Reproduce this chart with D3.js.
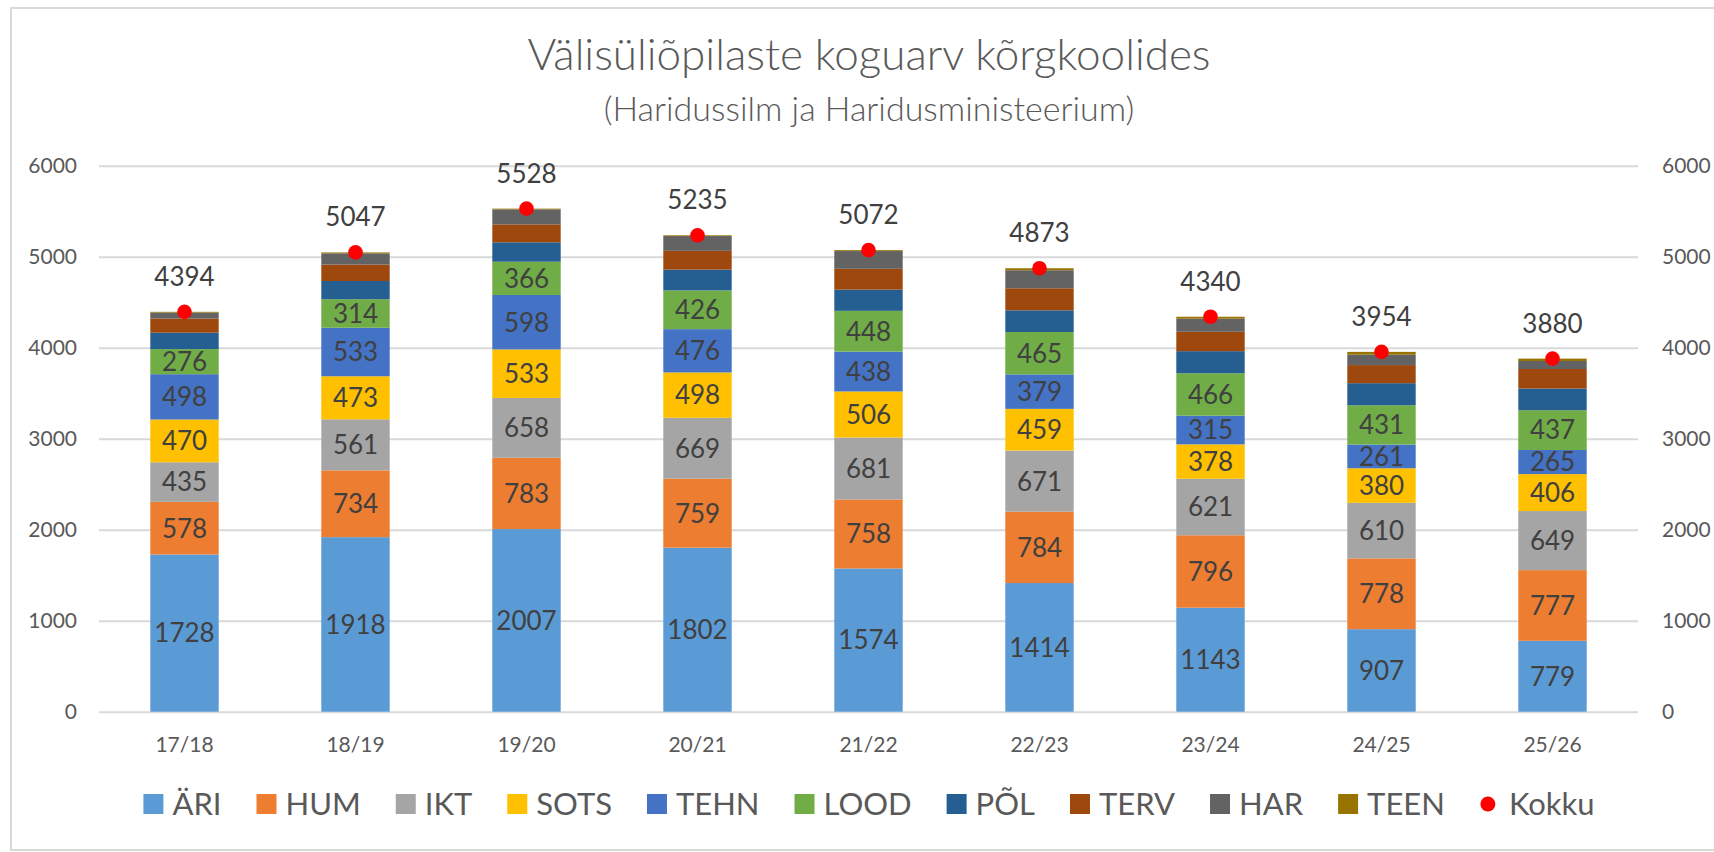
<!DOCTYPE html>
<html>
<head>
<meta charset="utf-8">
<script src="https://cdn.jsdelivr.net/npm/d3@7"></script>
<style>
  body { margin: 0; background: #fff; }
  text { font-family: Lato, Carlito, Calibri, sans-serif; }
</style>
</head>
<body>
<div id="chart"></div>
<script>
// data
var categories = ['17/18', '18/19', '19/20', '20/21', '21/22', '22/23', '23/24', '24/25', '25/26'];
var ari  = [1728, 1918, 2007, 1802, 1574, 1414, 1143, 907, 779];
var hum  = [578, 734, 783, 759, 758, 784, 796, 778, 777];
var ikt  = [435, 561, 658, 669, 681, 671, 621, 610, 649];
var sots = [470, 473, 533, 498, 506, 459, 378, 380, 406];
var tehn = [498, 533, 598, 476, 438, 379, 315, 261, 265];
var lood = [276, 314, 366, 426, 448, 465, 466, 431, 437];
var pol  = [180, 200, 213, 228, 233, 239, 243, 243, 239];
var terv = [155, 180, 197, 206, 229, 242, 213, 199, 214];
var har  = [66, 124, 165, 163, 195, 198, 144, 114, 88];
var teen = [8, 10, 8, 8, 10, 22, 21, 31, 26];
var kokku = [4394, 5047, 5528, 5235, 5072, 4873, 4340, 3954, 3880];

var seriesNames = ['ÄRI', 'HUM', 'IKT', 'SOTS', 'TEHN', 'LOOD', 'PÕL', 'TERV', 'HAR', 'TEEN'];
var seriesValues = [ari, hum, ikt, sots, tehn, lood, pol, terv, har, teen];
var colors = ['#5B9BD5', '#ED7D31', '#A5A5A5', '#FFC000', '#4472C4', '#70AD47', '#255E91', '#9E480E', '#636363', '#997300'];
var labelled = ['ÄRI', 'HUM', 'IKT', 'SOTS', 'TEHN', 'LOOD'];
var yTicks = [0, 1000, 2000, 3000, 4000, 5000, 6000];

var W = 1714, H = 852;
var plot = {left: 99, right: 1638, top: 165.7, bottom: 711.7};

var svg = d3.select('#chart')
  .append('svg')
  .attr('width', W)
  .attr('height', H);

svg.append('rect')
  .attr('width', W).attr('height', H)
  .attr('fill', '#fff');

// chart frame (right edge runs off the picture)
svg.append('rect')
  .attr('x', 11).attr('y', 8)
  .attr('width', 1716).attr('height', 842)
  .attr('fill', 'none')
  .attr('stroke', '#d9d9d9')
  .attr('stroke-width', 2);

// table for the stack
var rows = categories.map(function(c, i) {
  var r = {cat: c};
  seriesNames.forEach(function(n, k) { r[n] = seriesValues[k][i]; });
  r.total = kokku[i];
  return r;
});

var x = d3.scaleBand()
  .domain(categories)
  .range([plot.left, plot.right])
  .paddingInner(0.6)
  .paddingOuter(0.3);

var y = d3.scaleLinear()
  .domain([0, 6000])
  .range([plot.bottom, plot.top]);

var color = d3.scaleOrdinal().domain(seriesNames).range(colors);

// gridlines
svg.append('g')
  .attr('class', 'grid')
  .attr('transform', 'translate(' + plot.left + ',0)')
  .call(d3.axisLeft(y).tickValues(yTicks).tickSize(-(plot.right - plot.left)).tickFormat(''))
  .call(function(g) { g.select('.domain').remove(); })
  .selectAll('line')
  .attr('stroke', '#d9d9d9')
  .attr('stroke-width', 2);

// axes
var fmt = d3.format('d');
var leftAxis = svg.append('g')
  .attr('transform', 'translate(' + plot.left + ',0)')
  .call(d3.axisLeft(y).tickValues(yTicks).tickFormat(fmt).tickSize(0).tickPadding(22));

var rightAxis = svg.append('g')
  .attr('transform', 'translate(' + plot.right + ',0)')
  .call(d3.axisRight(y).tickValues(yTicks).tickFormat(fmt).tickSize(0).tickPadding(24));

var bottomAxis = svg.append('g')
  .attr('transform', 'translate(0,' + plot.bottom + ')')
  .call(d3.axisBottom(x).tickSize(0).tickPadding(25));

[leftAxis, rightAxis, bottomAxis].forEach(function(a) {
  a.select('.domain').remove();
  a.selectAll('text')
    .style('font-family', 'Lato, Carlito, Calibri, sans-serif')
    .style('font-size', '21px')
    .attr('fill', '#595959');
});

// stacked bars
var stacked = d3.stack().keys(seriesNames)(rows);

var layers = svg.selectAll('.layer')
  .data(stacked)
  .enter()
  .append('g')
  .attr('class', 'layer')
  .attr('fill', function(d) { return color(d.key); });

layers.selectAll('rect')
  .data(function(d) { return d; })
  .enter()
  .append('rect')
  .attr('x', function(d) { return x(d.data.cat); })
  .attr('y', function(d) { return y(d[1]); })
  .attr('width', x.bandwidth())
  .attr('height', function(d) { return y(d[0]) - y(d[1]); });

// labels inside the first six series
layers.filter(function(d) { return labelled.indexOf(d.key) >= 0; })
  .selectAll('.seg-label')
  .data(function(d) { return d.map(function(p) { return {p: p, key: d.key}; }); })
  .enter()
  .append('text')
  .attr('class', 'seg-label')
  .attr('x', function(d) { return x(d.p.data.cat) + x.bandwidth() / 2; })
  .attr('y', function(d) { return y((d.p[0] + d.p[1]) / 2); })
  .attr('dy', '0.36em')
  .attr('text-anchor', 'middle')
  .attr('fill', '#404040')
  .style('font-size', '26px')
  .text(function(d) { return d.p.data[d.key]; });

// Kokku markers and labels
svg.selectAll('.dot')
  .data(rows)
  .enter()
  .append('circle')
  .attr('class', 'dot')
  .attr('cx', function(d) { return x(d.cat) + x.bandwidth() / 2; })
  .attr('cy', function(d) { return y(d.total); })
  .attr('r', 7.3)
  .attr('fill', '#FF0000');

svg.selectAll('.total-label')
  .data(rows)
  .enter()
  .append('text')
  .attr('class', 'total-label')
  .attr('x', function(d) { return x(d.cat) + x.bandwidth() / 2; })
  .attr('y', function(d) { return y(d.total) - 26; })
  .attr('text-anchor', 'middle')
  .attr('fill', '#404040')
  .style('font-size', '26px')
  .text(function(d) { return d.total; });

// titles
svg.append('text')
  .attr('x', 869).attr('y', 70)
  .attr('text-anchor', 'middle')
  .attr('fill', '#595959')
  .style('font-size', '44px')
  .style('font-weight', 300)
  .text('Välisüliõpilaste koguarv kõrgkoolides');

svg.append('text')
  .attr('x', 869).attr('y', 121)
  .attr('text-anchor', 'middle')
  .attr('fill', '#595959')
  .style('font-size', '34px')
  .style('font-weight', 300)
  .text('(Haridussilm ja Haridusministeerium)');

// legend
var legendItems = seriesNames.map(function(n) { return {name: n, type: 'rect'}; });
legendItems.push({name: 'Kokku', type: 'dot'});

var legend = svg.append('g');
var lx = 0;
legendItems.forEach(function(item, i) {
  var g = legend.append('g').attr('transform', 'translate(' + lx + ',0)');
  if (item.type === 'rect') {
    g.append('rect')
      .attr('x', 0).attr('y', -10)
      .attr('width', 20).attr('height', 20)
      .attr('fill', color(item.name));
  } else {
    g.append('circle')
      .attr('cx', 8).attr('cy', 0)
      .attr('r', 7.5)
      .attr('fill', '#FF0000');
  }
  var t = g.append('text')
    .attr('x', 29)
    .attr('y', 0)
    .attr('dy', '0.36em')
    .attr('fill', '#595959')
    .style('font-size', '31px')
    .text(item.name);
  lx += 29 + t.node().getComputedTextLength() + 35;
});
var legendWidth = lx - 35;
legend.attr('transform', 'translate(' + (869 - legendWidth / 2) + ',804)');
</script>
</body>
</html>
